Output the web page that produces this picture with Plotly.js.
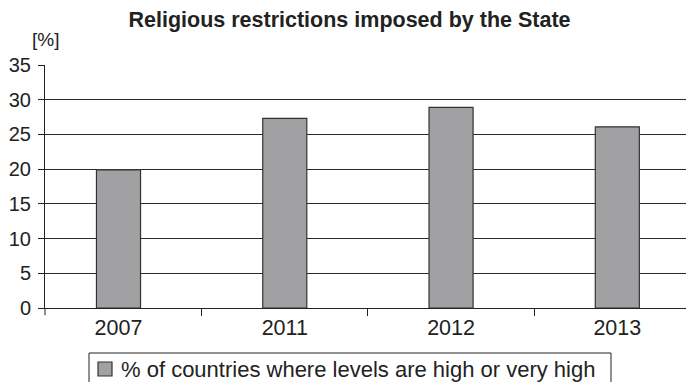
<!DOCTYPE html>
<html>
<head>
<meta charset="utf-8">
<script src="https://cdn.plot.ly/plotly-3.0.1.min.js"></script>
<style>html,body{margin:0;padding:0;background:#fff;}#chart{width:686px;height:382px;}</style>
</head>
<body>
<div id="chart"></div>
<script>
const years = ["2007", "2011", "2012", "2013"];
const shareHigh = [19.9, 27.3, 28.9, 26.1];
const seriesName = "% of countries where levels are high or very high";
const yTicks = [0, 5, 10, 15, 20, 25, 30, 35];

const FONT = "Liberation Sans, Arial, sans-serif";
const INK = "#222222";
const BAR_FILL = "#a1a1a4";
const BAR_EDGE = "#333333";

const trace = {
  type: "bar",
  x: years,
  y: shareHigh,
  name: seriesName,
  width: 0.265,
  marker: {color: BAR_FILL, line: {color: BAR_EDGE, width: 1.2}},
  showlegend: false,
  hoverinfo: "x+y"
};

// plot area: 45..686 px wide (641), 65..308 px tall (243)
const PW = 641, PH = 243;
const px = v => (v - 45) / PW;
const py = v => (308 - v) / PH;

const layout = {
  width: 686,
  height: 382,
  margin: {l: 45, r: 0, t: 65, b: 74, pad: 0},
  paper_bgcolor: "#ffffff",
  plot_bgcolor: "#ffffff",
  font: {family: FONT, color: INK, size: 20},
  title: {
    text: "<b>Religious restrictions imposed by the State</b>",
    font: {family: FONT, size: 21.5, color: INK},
    x: 0.5095, xref: "container", xanchor: "center",
    y: 0.95, yref: "container", yanchor: "middle"
  },
  xaxis: {
    type: "category",
    range: [-0.442, 3.413],
    showgrid: false,
    zeroline: false,
    showline: true,
    linecolor: INK,
    linewidth: 1,
    ticks: "outside",
    tickson: "boundaries",
    ticklen: 7,
    tickcolor: INK,
    ticklabelstandoff: 0,
    tickfont: {family: FONT, size: 21.5, color: INK},
    automargin: false
  },
  yaxis: {
    range: [0, 35],
    tickvals: yTicks,
    ticktext: yTicks.map(String),
    showgrid: true,
    gridcolor: "#2a2a2a",
    gridwidth: 1,
    zeroline: false,
    showline: true,
    linecolor: INK,
    linewidth: 1,
    ticks: "outside",
    ticklen: 6,
    tickcolor: INK,
    ticklabelstandoff: 3,
    tickfont: {family: FONT, size: 20, color: INK},
    automargin: false
  },
  showlegend: false,
  annotations: [
    {
      text: "[%]",
      xref: "paper", yref: "paper",
      x: 0, y: 1.105,
      xanchor: "center", yanchor: "middle",
      showarrow: false,
      font: {family: FONT, size: 19, color: INK}
    },
    {
      text: seriesName,
      xref: "paper", yref: "paper",
      x: px(119), y: py(369),
      xanchor: "left", yanchor: "middle",
      showarrow: false,
      font: {family: FONT, size: 22, color: INK}
    }
  ],
  shapes: [
    {
      type: "line",
      xref: "paper", yref: "paper",
      x0: 0, x1: 0, y0: 0, y1: -0.03,
      line: {color: INK, width: 1}
    },
    {
      type: "rect",
      xref: "paper", yref: "paper",
      x0: px(89), x1: px(611), y0: py(353), y1: py(395),
      line: {color: INK, width: 1},
      fillcolor: "rgba(0,0,0,0)"
    },
    {
      type: "rect",
      xref: "paper", yref: "paper",
      x0: px(98), x1: px(112), y0: py(362), y1: py(376),
      line: {color: BAR_EDGE, width: 1.2},
      fillcolor: BAR_FILL
    }
  ]
};

Plotly.newPlot("chart", [trace], layout, {displayModeBar: false, staticPlot: true});
</script>
</body>
</html>
